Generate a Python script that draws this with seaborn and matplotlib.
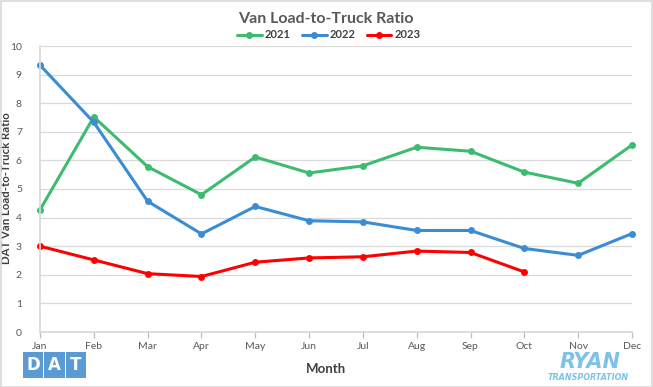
import matplotlib
matplotlib.use("Agg")
import matplotlib.pyplot as plt
import seaborn as sns
import pandas as pd
import numpy as np
from matplotlib.patches import Rectangle

months = ["Jan", "Feb", "Mar", "Apr", "May", "Jun", "Jul", "Aug", "Sep", "Oct", "Nov", "Dec"]
y2021 = [4.27, 7.52, 5.78, 4.80, 6.12, 5.56, 5.81, 6.46, 6.32, 5.59, 5.20, 6.54]
y2022 = [9.33, 7.33, 4.57, 3.43, 4.39, 3.89, 3.85, 3.55, 3.55, 2.92, 2.68, 3.44]
y2023 = [3.00, 2.52, 2.04, 1.94, 2.44, 2.59, 2.63, 2.83, 2.78, 2.10]
series = {"2021": y2021, "2022": y2022, "2023": y2023}
colors = {"2021": "#3dbb6e", "2022": "#3a8dd2", "2023": "#ff0000"}

rows = []
for yr, vals in series.items():
    for i, v in enumerate(vals):
        rows.append({"idx": i, "Month": months[i], "value": v, "year": yr})
df = pd.DataFrame(rows)

sns.set_theme(style="white")
plt.rcParams["font.family"] = ["Lato", "DejaVu Sans"]

W, H = 653, 387
fig = plt.figure(figsize=(W / 100, H / 100), dpi=100)
ax = fig.add_axes([40 / W, 1 - 332 / H, (632 - 40) / W, (332 - 46) / H])

sns.lineplot(data=df, x="idx", y="value", hue="year", palette=colors,
             marker="o", markersize=5, markeredgewidth=0, linewidth=2.2,
             ax=ax, legend=False, sort=False)
for ln in ax.lines:
    ln.set_clip_on(False)

ax.set_xlim(0, 11)
ax.set_ylim(0, 10)
ax.set_yticks(range(0, 11))
ax.set_xticks(range(12))
ax.set_xticklabels(months)
ax.grid(axis="y", color="#d9d9d9", linewidth=0.9)
ax.set_axisbelow(True)
for s in ["top", "right"]:
    ax.spines[s].set_visible(False)
ax.spines["left"].set_color("#d9d9d9")
ax.spines["bottom"].set_color("#d9d9d9")
ax.tick_params(axis="x", bottom=True, length=4, color="#bfbfbf", width=0.9,
               labelsize=7.5, labelcolor="#595959", pad=3)
ax.tick_params(axis="y", left=False, labelsize=7.5, labelcolor="#595959", pad=7)

ax.set_xlabel("Month", fontsize=9.5, color="#404040", fontweight="bold")
ax.xaxis.set_label_coords((326 - 40) / 592, -(363 - 332) / 286)
ax.set_ylabel("DAT Van Load-to-Truck Ratio", fontsize=8.2, color="#404040",
              fontweight="bold")
ax.yaxis.set_label_coords(-(40 - 12) / 592, (332 - 188) / 286)

fig.text(326 / W, 1 - 19 / H, "Van Load-to-Truck Ratio", ha="center", va="center",
         fontsize=11.5, color="#595959", fontweight="bold")

# legend
handles = [plt.Line2D([], [], color=colors[k], marker="o", markersize=5,
                      markeredgewidth=0, linewidth=2.2) for k in series]
fig.legend(handles, list(series.keys()), loc="center", bbox_to_anchor=(329 / W, 1 - 35 / H),
           ncol=3, frameon=False, handlelength=2.2, handletextpad=0.3,
           columnspacing=1.0, labelcolor="#404040",
           prop={"weight": "bold", "size": 8})

# figure border
fig.patches.append(Rectangle((0.5 / W, 0.5 / H), 1 - 1.5 / W, 1 - 1.5 / H, transform=fig.transFigure,
                             fill=False, edgecolor="#d9d9d9", linewidth=1.2))

# DAT logo
dat_blue = "#5b9bd5"
for i, letter in enumerate("DAT"):
    x0 = 23 + i * 21.5
    fig.patches.append(Rectangle((x0 / W, 1 - 378 / H), 20 / W, 26 / H,
                                 transform=fig.transFigure, color=dat_blue, linewidth=0))
    fig.text((x0 + 10) / W, 1 - 365 / H, letter, ha="center", va="center",
             fontsize=12, color="white", fontweight="bold", family="DejaVu Sans")

# RYAN logo
ryan_blue = "#7cc2ea"
fig.text(590 / W, 1 - 362 / H, "RYAN", ha="center", va="center", fontsize=15,
         color=ryan_blue, fontweight="bold", style="italic", family="DejaVu Sans")
fig.text(588 / W, 1 - 377 / H, "TRANSPORTATION", ha="center", va="center", fontsize=5.8,
         color=ryan_blue, fontweight="bold", style="italic", family="DejaVu Sans")

fig.savefig("out.png", dpi=100)
